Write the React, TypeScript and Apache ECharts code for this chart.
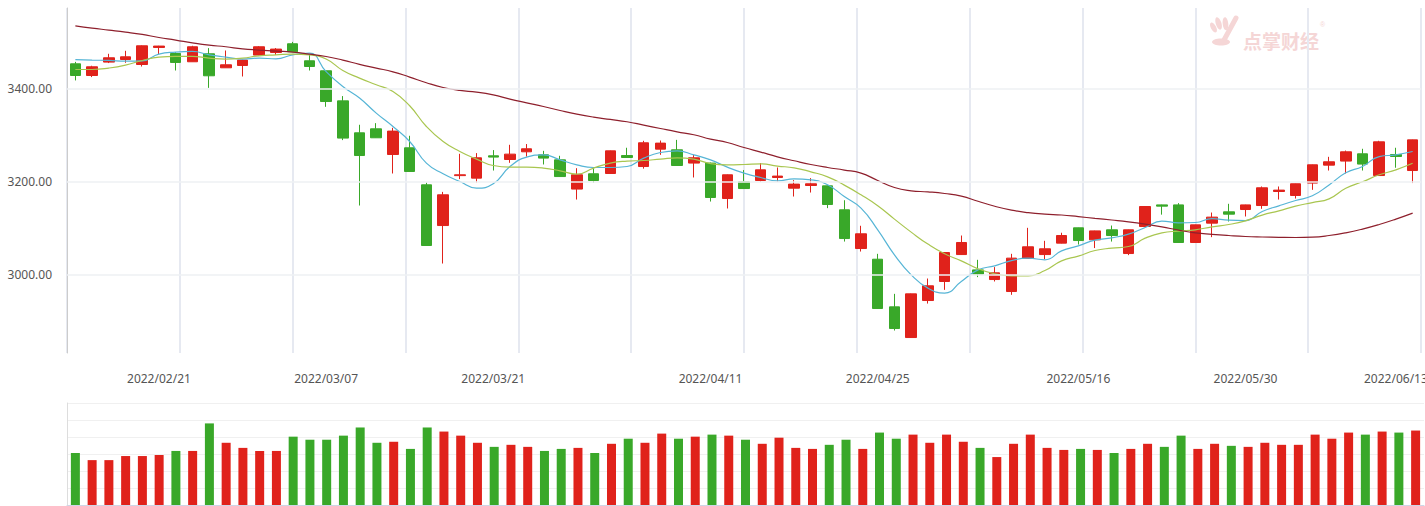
import React, { useEffect, useRef } from "react";
import * as echarts from "echarts";

const dates = [
  "2022/02/14", "2022/02/15", "2022/02/16", "2022/02/17", "2022/02/18",
  "2022/02/21", "2022/02/22", "2022/02/23", "2022/02/24", "2022/02/25",
  "2022/02/28", "2022/03/01", "2022/03/02", "2022/03/03", "2022/03/04",
  "2022/03/07", "2022/03/08", "2022/03/09", "2022/03/10", "2022/03/11",
  "2022/03/14", "2022/03/15", "2022/03/16", "2022/03/17", "2022/03/18",
  "2022/03/21", "2022/03/22", "2022/03/23", "2022/03/24", "2022/03/25",
  "2022/03/28", "2022/03/29", "2022/03/30", "2022/03/31", "2022/04/01",
  "2022/04/06", "2022/04/07", "2022/04/08",
  "2022/04/11", "2022/04/12", "2022/04/13", "2022/04/14", "2022/04/15",
  "2022/04/18", "2022/04/19", "2022/04/20", "2022/04/21", "2022/04/22",
  "2022/04/25", "2022/04/26", "2022/04/27", "2022/04/28", "2022/04/29",
  "2022/05/05", "2022/05/06",
  "2022/05/09", "2022/05/10", "2022/05/11", "2022/05/12", "2022/05/13",
  "2022/05/16", "2022/05/17", "2022/05/18", "2022/05/19", "2022/05/20",
  "2022/05/23", "2022/05/24", "2022/05/25", "2022/05/26", "2022/05/27",
  "2022/05/30", "2022/05/31", "2022/06/01", "2022/06/02",
  "2022/06/06", "2022/06/07", "2022/06/08", "2022/06/09", "2022/06/10",
  "2022/06/13", "2022/06/14",
];

const labeledDates = [
  "2022/02/21", "2022/03/07", "2022/03/21", "2022/04/11",
  "2022/04/25", "2022/05/16", "2022/05/30", "2022/06/13",
];

// [open, close, low, high]
const ohlc = [
  [3453.8, 3428.6, 3418, 3458],
  [3428.6, 3447.4, 3425.2, 3449.6],
  [3457.5, 3466.8, 3455.4, 3475.4],
  [3463.1, 3468.9, 3456, 3481.8],
  [3452.3, 3492.6, 3448, 3493.5],
  [3489, 3492, 3474.7, 3492.5],
  [3476, 3456.7, 3439.4, 3479],
  [3458.2, 3490.5, 3458, 3492.6],
  [3475.4, 3428, 3402, 3487.6],
  [3445.2, 3451.7, 3445, 3482.5],
  [3450.2, 3461.8, 3426.5, 3462.5],
  [3472.6, 3490.5, 3472, 3492],
  [3478.2, 3485.5, 3473, 3487.7],
  [3497, 3479.7, 3479.5, 3501],
  [3460.3, 3448, 3439.4, 3472.6],
  [3438.8, 3372.6, 3361.2, 3439],
  [3374, 3293.8, 3289.5, 3384.3],
  [3305.2, 3256.3, 3148.6, 3322.5],
  [3313.8, 3294.5, 3294, 3326],
  [3258.5, 3308.9, 3217.6, 3316],
  [3272.9, 3221.9, 3221.5, 3298.8],
  [3193.2, 3062.5, 3062, 3198.2],
  [3105.5, 3171.7, 3023.7, 3178],
  [3213, 3214.8, 3205.5, 3260],
  [3207.6, 3251.4, 3198.2, 3261.5],
  [3255.7, 3252.9, 3224, 3268],
  [3247.7, 3259.3, 3240.6, 3279.4],
  [3264.3, 3270.8, 3254, 3281],
  [3257.8, 3250.7, 3237, 3266.4],
  [3247, 3211, 3210.5, 3255.7],
  [3184, 3214.8, 3161.5, 3229],
  [3217, 3202.5, 3198, 3229],
  [3217.6, 3266.4, 3217, 3267],
  [3256.3, 3252, 3251, 3273],
  [3232.6, 3283.7, 3228, 3288],
  [3270, 3283, 3257.8, 3288.6],
  [3268.6, 3234.8, 3234.5, 3290],
  [3240, 3251.4, 3209, 3257.8],
  [3240, 3165.9, 3157.2, 3241],
  [3163.7, 3214.8, 3142.2, 3215.5],
  [3199.7, 3185.2, 3185, 3224.9],
  [3202.5, 3225.5, 3200, 3240],
  [3209, 3212, 3200, 3230.5],
  [3186, 3194.7, 3168, 3203.3],
  [3191.7, 3195.4, 3176.6, 3207.6],
  [3191, 3150.8, 3143, 3192],
  [3139.4, 3077.5, 3071, 3160],
  [3056, 3087.7, 3049.5, 3105],
  [3033, 2926.8, 2926, 3044.6],
  [2930.4, 2883.7, 2879.4, 2958.4],
  [2864.3, 2958.4, 2864, 2959],
  [2944, 2975.7, 2937.5, 2991.4],
  [2985, 3047.4, 2967, 3048],
  [3043, 3069, 3042.5, 3084],
  [3010, 3001, 2994.4, 3031.7],
  [2989.2, 3003.7, 2985, 3016],
  [2963.4, 3035.3, 2956.3, 3044.6],
  [3034.5, 3059.7, 3034, 3100.6],
  [3043, 3055.4, 3033, 3072.6],
  [3067.6, 3084, 3067, 3090],
  [3100.6, 3073.2, 3064.6, 3101],
  [3074.7, 3094, 3057, 3094.5],
  [3096.3, 3084, 3071, 3105.5],
  [3045.2, 3096.3, 3041.8, 3096.8],
  [3103.4, 3146.5, 3103, 3147],
  [3150, 3147.3, 3129, 3150.5],
  [3150, 3069, 3068.5, 3153.8],
  [3069, 3107, 3068.5, 3107.5],
  [3110.7, 3123.6, 3080.5, 3133.5],
  [3135, 3130, 3114.2, 3152.3],
  [3140, 3150, 3125, 3150.5],
  [3148.6, 3186.8, 3141.5, 3189.6],
  [3178.8, 3181.8, 3161.5, 3189.6],
  [3170.2, 3195.4, 3163.7, 3195.8],
  [3196.9, 3236.3, 3182.4, 3236.8],
  [3235.6, 3242.8, 3224, 3253.5],
  [3244.3, 3264.3, 3217.6, 3267],
  [3260, 3237.8, 3224, 3270.8],
  [3213.2, 3285.8, 3213, 3288],
  [3258.5, 3254.2, 3230, 3273],
  [3224, 3290, 3197, 3290.5],
];

const volumes = [
  306, 264, 264, 288, 288, 294, 318, 318, 480, 366,
  336, 318, 318, 402, 384, 384, 408, 456, 366, 372,
  330, 456, 432, 408, 366, 342, 354, 342, 318, 330,
  336, 306, 360, 390, 366, 420, 390, 402, 414, 408,
  384, 360, 396, 336, 330, 354, 384, 330, 426, 390,
  414, 366, 414, 372, 336, 282, 360, 414, 336, 324,
  330, 324, 306, 330, 360, 342, 408, 330, 360, 348,
  342, 366, 354, 354, 414, 390, 426, 414, 432, 426,
  438,
];

const ma5 = [
  3463, 3461.8, 3461, 3459.5, 3460, 3474.7, 3479, 3480.4, 3473.2, 3468.3,
  3464, 3466, 3464.6, 3473.2, 3477, 3437, 3405, 3380, 3347.6, 3318.8,
  3286.5, 3240, 3217, 3200.3, 3186, 3195.4, 3232.6, 3252.9, 3257.8, 3247,
  3236.3, 3230.5, 3230.5, 3232.6, 3250.7, 3262.8, 3266.4, 3257.8, 3247, 3231.3,
  3218.4, 3209, 3201.8, 3206, 3204, 3193.2, 3168, 3143, 3096.3, 3042.4,
  2999.4, 2970.7, 2960, 2985, 3010, 3018.7, 3030, 3035.3, 3031.7, 3051,
  3061.8, 3074, 3079, 3087, 3101.3, 3115, 3111.4, 3112, 3120.6, 3117,
  3116.3, 3135.7, 3148, 3159.4, 3169.5, 3193, 3219, 3232.6, 3254, 3257.8,
  3265,
];

const ma10 = [
  3441.6, 3441.6, 3444.6, 3451, 3461, 3468.3, 3469.7, 3469.7, 3466, 3464,
  3466, 3471, 3473, 3474.7, 3473, 3464, 3439.4, 3423, 3408.6, 3394,
  3363.4, 3318.8, 3286.5, 3265, 3248.6, 3234.8, 3231.3, 3231.3, 3229.2, 3223.4,
  3216.3, 3229.2, 3240, 3244.3, 3245.6, 3248.6, 3251.4, 3248.6, 3239, 3236.3,
  3237, 3238.5, 3233.5, 3229.8, 3221.2, 3210.4, 3192.6, 3171.7, 3148, 3119.3,
  3091.3, 3065.5, 3044.6, 3029.5, 3012.3, 3001.5, 2997.2, 2997.2, 3008.6, 3029.5,
  3039.6, 3051.7, 3056.8, 3060.3, 3078.4, 3089.8, 3093.5, 3096.3, 3102.7, 3107.7,
  3115.7, 3128, 3137.2, 3147.3, 3155, 3163, 3185.7, 3199.7, 3214.8, 3225.5,
  3239.5,
];

const maLong = [
  3535.7, 3530.7, 3526.4, 3522, 3517, 3510.5, 3505, 3499, 3494, 3490.5,
  3486, 3483.4, 3481.2, 3479, 3474.7, 3469.6, 3461.8, 3452.6, 3444.6, 3436.6,
  3425.2, 3413, 3402.8, 3396.4, 3393, 3387, 3377.8, 3369.8, 3361.9, 3353.3,
  3345.4, 3339, 3334, 3329, 3321.8, 3314.5, 3307.4, 3301, 3291.6, 3284.3,
  3273.5, 3263.6, 3253.5, 3245, 3237, 3230.5, 3225, 3218.4, 3202.5, 3187.4,
  3180.3, 3178, 3174.5, 3168.9, 3157.8, 3147, 3138.7, 3133.3, 3130, 3128.2,
  3124.7, 3121, 3117.4, 3113.5, 3108.6, 3102.7, 3095.6, 3089.8, 3086.6, 3084,
  3081.9, 3080.8, 3080.1, 3079.7, 3080.5, 3084, 3089.8, 3097.8, 3107.7, 3119.3,
  3132.2,
];

const yTickValues = [3000, 3200, 3400];

const UP = "#e0221b";
const DOWN = "#39a829";
const FONT = "'Noto Sans', sans-serif";

export default function App() {
  const ref = useRef<HTMLDivElement>(null);

  useEffect(() => {
    const chart = echarts.init(ref.current!, null, { renderer: "svg" });
    const volData = volumes.map((v, i) => ({
      value: v,
      itemStyle: { color: ohlc[i][1] >= ohlc[i][0] ? UP : DOWN },
    }));
    chart.setOption({
      animation: false,
      backgroundColor: "#ffffff",
      textStyle: { fontFamily: FONT },
      grid: [
        { left: 67, right: 4, top: 8, bottom: 153, containLabel: false, outerBoundsMode: "none" },
        { left: 67, right: 1, top: 403, height: 102, containLabel: false, outerBoundsMode: "none" },
      ],
      xAxis: [
        {
          type: "category",
          gridIndex: 0,
          data: dates,
          boundaryGap: true,
          axisLine: { show: false },
          axisTick: { show: false },
          splitLine: { show: false },
          axisLabel: {
            interval: (i: number) => labeledDates.includes(dates[i]),
            margin: 19,
            color: "#555",
            fontSize: 12,
            fontFamily: FONT,
            hideOverlap: false,
          },
        },
        {
          type: "value",
          gridIndex: 0,
          min: 0,
          max: 12,
          interval: 1,
          axisLine: { show: false },
          axisTick: { show: false },
          axisLabel: { show: false },
          splitLine: { show: true, lineStyle: { color: "#e6e9f1", width: 2 } },
        },
        {
          type: "category",
          gridIndex: 1,
          data: dates,
          boundaryGap: true,
          axisLine: { show: true, lineStyle: { color: "#cfd6e6", width: 1 } },
          axisTick: { show: false },
          axisLabel: { show: false },
          splitLine: { show: false },
        },
      ],
      yAxis: [
        {
          type: "value",
          gridIndex: 0,
          min: 2831,
          max: 3574,
          axisLine: { show: true, lineStyle: { color: "#cccccc" } },
          axisTick: { show: false },
          splitLine: { show: false },
          axisLabel: {
            customValues: yTickValues,
            formatter: (v: number) => v.toFixed(2),
            color: "#555",
            fontSize: 12,
            margin: 15,
            fontFamily: FONT,
          },
        },
        {
          type: "value",
          gridIndex: 1,
          min: 0,
          max: 600,
          interval: 100,
          axisLine: { show: true, lineStyle: { color: "#dddddd" } },
          axisTick: { show: false },
          axisLabel: { show: false },
          splitLine: { show: true, lineStyle: { color: "#f0f0f0" } },
        },
      ],
      series: [
        {
          type: "line",
          xAxisIndex: 0,
          yAxisIndex: 0,
          data: [],
          z: 1,
          silent: true,
          markLine: {
            silent: true,
            symbol: ["none", "none"],
            label: { show: false },
            lineStyle: { color: "#eef0f3", width: 1.5, type: "solid" },
            data: yTickValues.map((v) => ({ yAxis: v })),
          },
        },
        {
          type: "candlestick",
          xAxisIndex: 0,
          yAxisIndex: 0,
          data: ohlc,
          barWidth: 11,
          itemStyle: {
            color: UP,
            color0: DOWN,
            borderColor: UP,
            borderColor0: DOWN,
            borderWidth: 1,
          },
        },
        {
          type: "line",
          name: "MA5",
          xAxisIndex: 0,
          yAxisIndex: 0,
          data: ma5,
          smooth: true,
          showSymbol: false,
          symbol: "none",
          lineStyle: { color: "#56b5d6", width: 1.2 },
        },
        {
          type: "line",
          name: "MA10",
          xAxisIndex: 0,
          yAxisIndex: 0,
          data: ma10,
          smooth: true,
          showSymbol: false,
          symbol: "none",
          lineStyle: { color: "#a9c650", width: 1.2 },
        },
        {
          type: "line",
          name: "MA60",
          xAxisIndex: 0,
          yAxisIndex: 0,
          data: maLong,
          smooth: true,
          showSymbol: false,
          symbol: "none",
          lineStyle: { color: "#8e1f2c", width: 1.2 },
        },
        {
          type: "bar",
          xAxisIndex: 2,
          yAxisIndex: 1,
          data: volData,
          barWidth: 9,
        },
      ],
      graphic: [
        {
          type: "group",
          silent: true,
          children: [
            { type: "ellipse", shape: { cx: 1213, cy: 27, rx: 2.6, ry: 5.5 }, rotation: 0.5, originX: 1213, originY: 27, style: { fill: "#f5d6d6" } },
            { type: "ellipse", shape: { cx: 1219, cy: 24, rx: 2.8, ry: 6.5 }, rotation: 0.3, originX: 1219, originY: 24, style: { fill: "#f5d6d6" } },
            { type: "ellipse", shape: { cx: 1225.5, cy: 24, rx: 2.8, ry: 6.5 }, rotation: 0.1, originX: 1225.5, originY: 24, style: { fill: "#f5d6d6" } },
            { type: "line", shape: { x1: 1236, y1: 18, x2: 1224, y2: 40 }, style: { stroke: "#f5d6d6", lineWidth: 5, lineCap: "round" } },
            { type: "ellipse", shape: { cx: 1221, cy: 42, rx: 9, ry: 3.5 }, style: { fill: "#f5d6d6" } },
            {
              type: "text",
              x: 1243,
              y: 40,
              style: {
                text: "点掌财经",
                font: "bold 19px 'Noto Sans CJK SC', sans-serif",
                fill: "#f5d6d6",
                textVerticalAlign: "middle",
              },
            },
            {
              type: "text",
              x: 1320,
              y: 24,
              style: { text: "®", font: "7px sans-serif", fill: "#f5d6d6", textVerticalAlign: "middle" },
            },
          ],
        },
      ],
    });
    return () => chart.dispose();
  }, []);

  return (
    <div
      ref={ref}
      style={{ position: "fixed", left: 0, top: 0, width: 1425, height: 506, background: "#fff" }}
    />
  );
}
